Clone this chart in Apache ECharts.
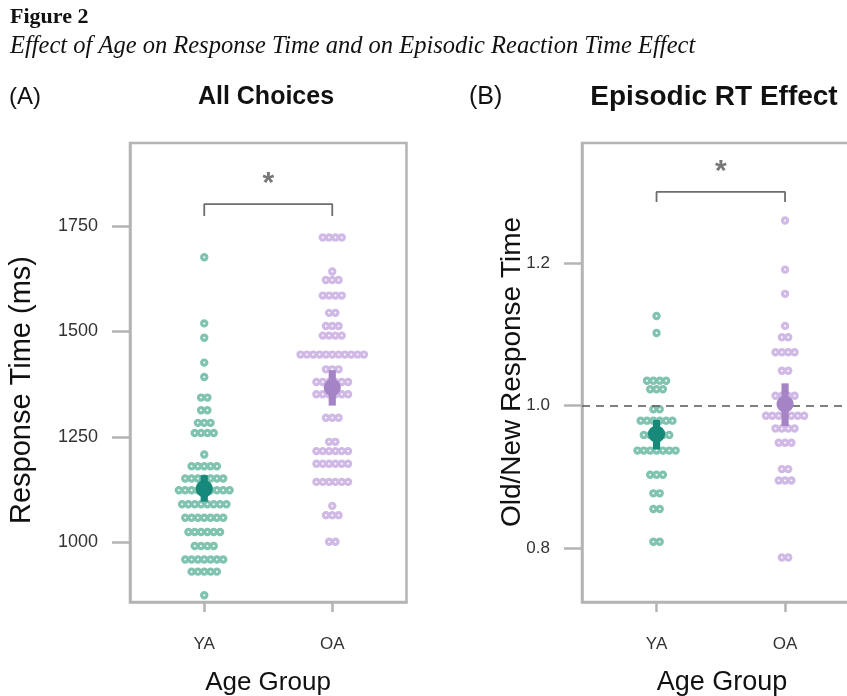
<!DOCTYPE html>
<html><head><meta charset="utf-8">
<script src="https://cdn.jsdelivr.net/npm/echarts@6/dist/echarts.min.js"></script>
<style>html,body{margin:0;padding:0;background:#fff}#c{width:847px;height:696px}</style>
</head><body><div id="c"></div>
<script>
// ---- data ----
const groups = ['YA', 'OA'];
// Panel A: mean response time per participant (ms)
const rtYA = [1676, 1519, 1485, 1426, 1392, 1343, 1343, 1313, 1313, 1283, 1283, 1283,
  1259, 1259, 1259, 1259, 1208, 1180, 1180, 1180, 1180, 1180,
  1151, 1151, 1151, 1151, 1151, 1151, 1151,
  1123, 1123, 1123, 1123, 1123, 1123, 1123, 1123, 1123,
  1090, 1090, 1090, 1090, 1090, 1090, 1090, 1090,
  1058, 1058, 1058, 1058, 1058, 1058, 1058,
  1024, 1024, 1024, 1024, 1024, 1024,
  991, 991, 991, 991,
  959, 959, 959, 959, 959, 959, 959,
  930, 930, 930, 930, 930, 874];
const rtOA = [1723, 1723, 1723, 1723, 1642, 1622, 1622, 1622, 1585, 1585, 1585, 1585,
  1544, 1544, 1513, 1513, 1513, 1490, 1490, 1490, 1490,
  1445, 1445, 1445, 1445, 1445, 1445, 1445, 1445, 1445, 1445, 1445,
  1410, 1410, 1410, 1380, 1380, 1380, 1380, 1380, 1380,
  1351, 1351, 1351, 1351, 1351, 1351, 1295, 1295, 1295, 1238, 1238,
  1216, 1216, 1216, 1216, 1216, 1216, 1186, 1186, 1186, 1186, 1186, 1186,
  1143, 1143, 1143, 1143, 1143, 1143, 1086, 1064, 1064, 1064, 1001, 1001];
const rtMean = [1127, 1367];
const rtCILow = [1096, 1324];
const rtCIHigh = [1159, 1408];
const rtTicks = [1000, 1250, 1500, 1750];
const rtBracket = [1774, 1802];   // tick bottom, bar level
const rtStarLevel = 1850;

// Panel B: old/new response time ratio per participant
const epYA = [1.126, 1.102, 1.035, 1.035, 1.035, 1.035, 1.023, 1.023, 1.023,
  0.995, 0.995, 0.979, 0.979, 0.979, 0.979, 0.979, 0.979,
  0.959, 0.959, 0.959, 0.959, 0.959,
  0.937, 0.937, 0.937, 0.937, 0.937, 0.937, 0.937,
  0.903, 0.903, 0.903, 0.877, 0.877, 0.855, 0.855, 0.809, 0.809];
const epOA = [1.260, 1.191, 1.157, 1.112, 1.096, 1.096, 1.075, 1.075, 1.075, 1.075,
  1.049, 1.049, 1.014, 1.014, 1.014, 1.014,
  0.986, 0.986, 0.986, 0.986, 0.986, 0.986, 0.986,
  0.968, 0.968, 0.968, 0.968, 0.948, 0.948, 0.948,
  0.911, 0.911, 0.895, 0.895, 0.895, 0.787, 0.787];
const epMean = [0.9603, 1.0024];
const epCILow = [0.9388, 0.9715];
const epCIHigh = [0.9800, 1.0314];
const epTicks = [0.8, 1.0, 1.2];
const epBracket = [1.286, 1.300];
const epStarLevel = 1.329;
const epReference = 1.0;

// ---- styling ----
const dotColors = ['#80c3b0', '#d0bae5'];
const meanColors = ['#16897a', '#a584c6'];
const spine = '#b4b4b4';
const SANS = '"Liberation Sans", Arial, Helvetica, sans-serif';
const SERIF = '"Liberation Serif", "Times New Roman", serif';
const STEP = 0.0495; // horizontal spacing between swarm dots (x units)

// swarm layout: identical values are laid out in centred rows
function swarm(values, idx) {
  const rows = new Map();
  values.forEach(v => { rows.set(v, (rows.get(v) || 0) + 1); });
  const out = [];
  rows.forEach((n, v) => {
    for (let i = 0; i < n; i++) out.push([idx + (i - (n - 1) / 2) * STEP, v]);
  });
  return out;
}

function dotSeries(values, idx, axis) {
  return {
    type: 'scatter', xAxisIndex: axis, yAxisIndex: axis,
    data: swarm(values, idx), symbol: 'circle', symbolSize: 5.2,
    itemStyle: { color: '#ffffff', borderColor: dotColors[idx], borderWidth: 3.2, opacity: 1 },
    z: 2, silent: true
  };
}

function meanSeries(mean, lo, hi, axis) {
  return {
    type: 'custom', xAxisIndex: axis, yAxisIndex: axis, z: 5, silent: true,
    data: groups.map((g, i) => [i, mean[i], lo[i], hi[i]]),
    renderItem(params, api) {
      const x = api.value(0);
      const m = api.coord([x, api.value(1)]);
      const l = api.coord([x, api.value(2)]);
      const h = api.coord([x, api.value(3)]);
      const c = meanColors[params.dataIndex];
      return { type: 'group', children: [
        { type: 'rect', shape: { x: m[0] - 3.6, y: h[1], width: 7.2, height: l[1] - h[1] }, style: { fill: c } },
        { type: 'circle', shape: { cx: m[0], cy: m[1], r: 8.6 }, style: { fill: c } }
      ] };
    }
  };
}

function bracketSeries(br, star, axis) {
  return [{
    type: 'line', xAxisIndex: axis, yAxisIndex: axis, silent: true, symbol: 'none',
    data: [[0, br[0]], [0, br[1]], [1, br[1]], [1, br[0]]],
    lineStyle: { color: '#6e6e6e', width: 1.8 }, z: 3
  }, {
    type: 'scatter', xAxisIndex: axis, yAxisIndex: axis, silent: true,
    data: [[0.5, star]], symbolSize: 0,
    label: { show: true, position: 'inside', formatter: '*', fontSize: 30, fontFamily: SANS, color: '#555', fontWeight: 'bold' }
  }];
}

function xAx(grid, fs) {
  return {
    gridIndex: grid, type: 'value', min: -0.58, max: 1.58,
    axisLine: { show: true, onZero: false, lineStyle: { color: spine, width: 2.5 } },
    axisTick: { show: true, customValues: [0, 1], length: 10, lineStyle: { color: spine, width: 2.5 } },
    axisLabel: { customValues: [0, 1], formatter: v => groups[Math.round(v)], margin: 34, fontSize: fs, color: '#333', fontFamily: SANS },
    splitLine: { show: false }
  };
}
function yAx(grid, min, max, ticks, fmt, fs) {
  return {
    gridIndex: grid, type: 'value', min: min, max: max,
    axisLine: { show: true, onZero: false, lineStyle: { color: spine, width: 2.5 } },
    axisTick: { show: true, customValues: ticks, length: 18, lineStyle: { color: spine, width: 2.5 } },
    axisLabel: { customValues: ticks, formatter: fmt, margin: 32, fontSize: fs, color: '#333', fontFamily: SANS },
    splitLine: { show: false }
  };
}

const chart = echarts.init(document.getElementById('c'), null, { renderer: 'canvas' });
const gridBase = { show: true, borderColor: spine, borderWidth: 2.5, containLabel: false, outerBoundsMode: 'none', backgroundColor: 'transparent' };

const txt = (text, x, y, font, align, extra) => Object.assign({
  type: 'text', x: x, y: y,
  style: { text: text, font: font, fill: '#111', textAlign: align || 'left', textVerticalAlign: 'middle' }
}, extra || {});

chart.setOption({
  animation: false,
  backgroundColor: '#ffffff',
  grid: [
    Object.assign({ left: 130, top: 143, width: 276.5, height: 459 }, gridBase),
    Object.assign({ left: 582, top: 143, width: 277.6, height: 459 }, gridBase)
  ],
  xAxis: [xAx(0, 17), xAx(1, 17)],
  yAxis: [
    yAx(0, 858, 1947, rtTicks, v => String(Math.round(v)), 18),
    yAx(1, 0.7245, 1.3687, epTicks, v => v.toFixed(1), 17)
  ],
  series: [
    dotSeries(rtYA, 0, 0), dotSeries(rtOA, 1, 0),
    meanSeries(rtMean, rtCILow, rtCIHigh, 0),
    ...bracketSeries(rtBracket, rtStarLevel, 0),
    Object.assign(dotSeries(epYA, 0, 1), {
      markLine: { silent: true, symbol: 'none', label: { show: false },
        lineStyle: { color: '#555', width: 1.6, type: [8, 6] }, data: [{ yAxis: epReference }] }
    }),
    dotSeries(epOA, 1, 1),
    meanSeries(epMean, epCILow, epCIHigh, 1),
    ...bracketSeries(epBracket, epStarLevel, 1)
  ],
  graphic: [
    txt('Figure 2', 10, 17, 'bold 22px ' + SERIF),
    txt('Effect of Age on Response Time and on Episodic Reaction Time Effect', 10, 47, 'italic 24.5px ' + SERIF),
    txt('(A)', 9, 97, '24px ' + SANS),
    txt('All Choices', 266, 97, 'bold 25px ' + SANS, 'center'),
    txt('(B)', 469, 97, '25px ' + SANS),
    txt('Episodic RT Effect', 714, 97, 'bold 28px ' + SANS, 'center'),
    txt('Age Group', 268, 683, '26px ' + SANS, 'center'),
    txt('Age Group', 722, 683, '27px ' + SANS, 'center'),
    txt('Response Time (ms)', 0, 0, '29px ' + SANS, 'center', { x: 22, y: 390, rotation: Math.PI / 2 }),
    txt('Old/New Response Time', 0, 0, '28px ' + SANS, 'center', { x: 512, y: 372, rotation: Math.PI / 2 })
  ]
});
</script></body></html>
